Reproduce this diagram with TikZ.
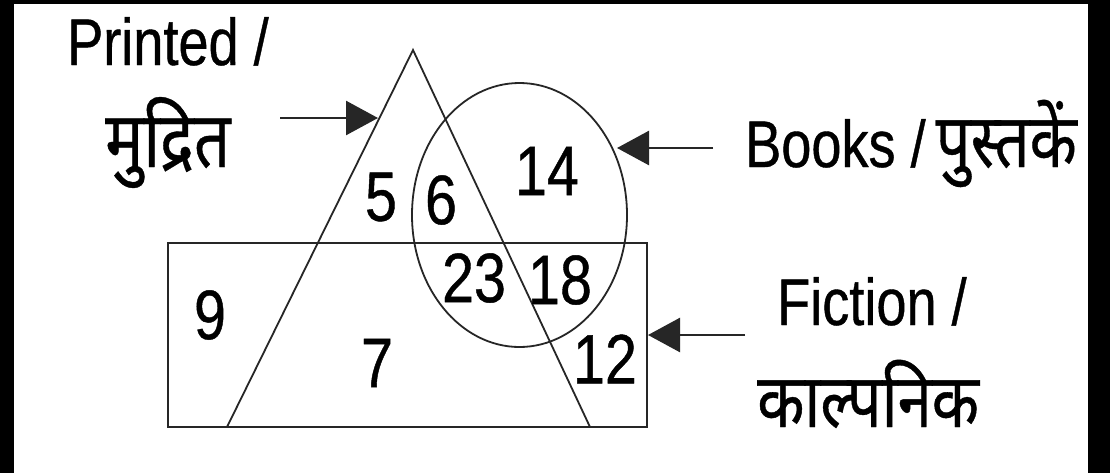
\documentclass[tikz,border=0pt]{standalone}
\usepackage{fontspec}
\setmainfont{Liberation Sans}[FakeStretch=0.82,FakeBold=0.6]
\newfontfamily\dev[Script=Devanagari,FakeStretch=0.82,FakeBold=0.5]{Noto Sans}
\usetikzlibrary{arrows.meta}
\begin{document}
\begin{tikzpicture}[x=1pt,y=-1pt,
  shapeline/.style={line width=1.8pt,black!85},
  num/.style={inner sep=0pt,font=\fontsize{70}{72}\selectfont},
  lab/.style={inner sep=0pt,anchor=base west,font=\fontsize{66}{70}\selectfont},
  devlab/.style={inner sep=0pt,anchor=base west,font=\fontsize{78}{80}\dev},
  pointer/.style={line width=2.6pt,black!85,-{Triangle[length=32pt,width=34pt]}}]
\useasboundingbox (0,0) rectangle (1110,472);
\fill[black] (-5,-5) rectangle (1115,477);
\fill[white] (14,4) rectangle (1088,477);
% shapes
\draw[shapeline] (168,243) rectangle (647,427);
\draw[shapeline] (413,50) -- (590,427) -- (227,427) -- cycle;
\draw[shapeline] (519.5,215) ellipse [x radius=107.5, y radius=132];
% numbers
\node[num] (n5) at (381,197) {5};
\node[num] (n6) at (441,200) {6};
\node[num] (n14) at (547,171) {14};
\node[num] (n23) at (474,278) {23};
\node[num] (n18) at (560,280) {18};
\node[num] (n9) at (210,315) {9};
\node[num] (n7) at (377,363) {7};
\node[num] (n12) at (605,359) {12};
% labels
\node[lab] (printed) at (67,65) {Printed /};
\node[devlab] (mudrit) at (105,167) {मुद्रित};
\node[lab] (books) at (745,167) {Books /\kern10pt{\fontsize{75}{80}\dev पुस्तकें}};
\node[lab] (fiction) at (777,325) {Fiction /};
\node[devlab,font=\fontsize{75}{80}\dev] (kalp) at (757,427) {काल्पनिक};
% arrows
\coordinate (pt) at (280,118);
\coordinate (ph) at (378,118);
\coordinate (bt) at (713,148);
\coordinate (bh) at (617,148);
\coordinate (ft) at (745,335);
\coordinate (fh) at (648,335);
\draw[pointer] (pt) -- (ph);
\draw[pointer] (bt) -- (bh);
\draw[pointer] (ft) -- (fh);
\end{tikzpicture}
\end{document}
